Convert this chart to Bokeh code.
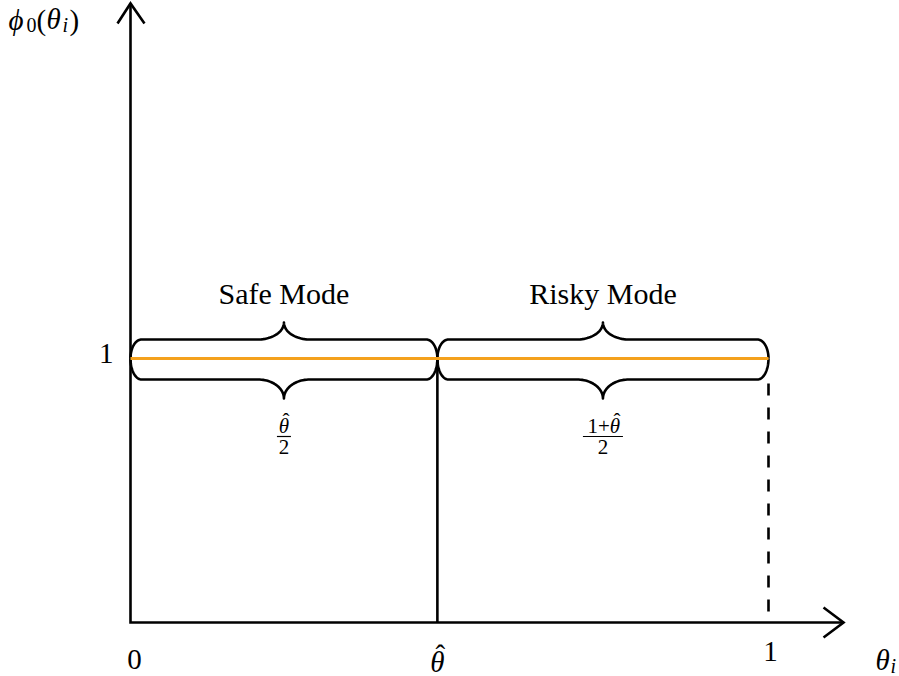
import numpy as np
from bokeh.plotting import figure
from bokeh.models import Range1d
from bokeh.core.properties import value
from bokeh.embed import file_html
from bokeh.resources import INLINE

# ---------------- data ----------------
theta_hat = 0.481
phi_level = 1.0
seg_start = [0.0, theta_hat]
seg_end = [theta_hat, 1.0]
mode_labels = ["Safe Mode", "Risky Mode"]
frac_prefix = ["", "1+"]
frac_symbol = ["θ", "θ"]
frac_denominators = ["2", "2"]
x_ticks = [0.0, theta_hat, 1.0]
x_tick_labels = ["0", "θ", "1"]
x_tick_hat = [False, True, False]
y_ticks = [1.0]
y_tick_labels = ["1"]
x_axis_end = 1.1176
y_axis_end = 2.345

# ---------------- layout ----------------
W, H = 899, 676
PX_X = 638.0          # pixels per data unit along x
PX_Y = 264.0          # pixels per data unit along y
ORIGIN = (130, 622)   # origin position in figure pixels (left, top)
x_start = -ORIGIN[0] / PX_X
x_end = x_start + W / PX_X
y_end = ORIGIN[1] / PX_Y
y_start = y_end - H / PX_Y

FONT = "Liberation Serif"
ORANGE = "#F4A11D"
LW = 2.6
HAT = "\u02C6"

p = figure(width=W, height=H, output_backend="svg", toolbar_location=None,
           x_range=Range1d(x_start, x_end), y_range=Range1d(y_start, y_end),
           x_axis_type=None, y_axis_type=None, min_border=0,
           background_fill_color="white", border_fill_color="white")
p.outline_line_color = None
p.grid.visible = False


def pd(xd, yd, dx, dy):
    """data point shifted by pixel offsets (dx right, dy down)"""
    return xd + dx / PX_X, yd - dy / PX_Y


def put(xd, yd, txt, dx=0, dy=0, size=29, align="center", italic=False):
    x, y = pd(xd, yd, dx, dy)
    p.text(x=[x], y=[y], text=[txt], text_font=value(FONT),
           text_font_size=f"{size}px", text_align=align,
           text_baseline="middle",
           text_font_style="italic" if italic else "normal",
           text_color="black")


def hat_over(xd, yd, dx, dy, size):
    """circumflex accent above a glyph whose visual centre is at (dx, dy)"""
    put(xd, yd, HAT, dx=dx + 2, dy=dy - 0.21 * size, size=size)


# ---------------- axes ----------------
p.line([0, 0, x_axis_end], [y_axis_end, 0, 0], line_color="black",
       line_width=LW, line_join="miter")
ax1 = pd(0, y_axis_end, -13, 20)
ax2 = pd(0, y_axis_end, 14, 20)
p.line([ax1[0], 0, ax2[0]], [ax1[1], y_axis_end, ax2[1]], line_color="black",
       line_width=LW, line_join="miter")
bx1 = pd(x_axis_end, 0, -20, -15)
bx2 = pd(x_axis_end, 0, -20, 15)
p.line([bx1[0], x_axis_end, bx2[0]], [bx1[1], 0, bx2[1]], line_color="black",
       line_width=LW, line_join="miter")

# threshold line and dashed end line
p.line([theta_hat, theta_hat], [phi_level, 0], line_color="black", line_width=LW)
p.line([1.0, 1.0], [pd(1.0, phi_level, 0, 25)[1], 0], line_color="black",
       line_width=LW, line_dash="12 12")


# ---------------- braces ----------------
def brace(xa, xb, y, up):
    s = 1 if up else -1
    ry_px, my_px = (19, 17) if up else (21, 19)
    rx = 11 / PX_X
    mx = 26 / PX_X
    ry = s * ry_px / PX_Y
    my = s * my_px / PX_Y
    mid = (xa + xb) / 2
    t = np.linspace(0, np.pi / 2, 24)
    x1 = xa + rx - rx * np.cos(t)
    y1 = y + ry * np.sin(t)
    x2 = mid - mx + mx * np.sin(t)
    y2 = y + ry + my * (1 - np.cos(t))
    xl = np.concatenate([x1, x2])
    yl = np.concatenate([y1, y2])
    xr = (2 * mid - xl)[::-1]
    yr = yl[::-1]
    return np.concatenate([xl, xr]), np.concatenate([yl, yr])


for a, b in zip(seg_start, seg_end):
    for up in (True, False):
        bx, by = brace(a, b, phi_level, up)
        p.line(bx, by, line_color="black", line_width=LW, line_join="round")

# policy line
p.line([seg_start[0], seg_end[-1]], [phi_level, phi_level],
       line_color=ORANGE, line_width=3.2)

# ---------------- labels ----------------
bar_half = [7, 20]
FS = 21
for i, (a, b) in enumerate(zip(seg_start, seg_end)):
    mid = (a + b) / 2
    put(mid, phi_level, mode_labels[i], dx=0, dy=-65, size=30)
    if frac_prefix[i]:
        put(mid, phi_level, frac_prefix[i], dx=7, dy=67, size=FS, align="right")
        put(mid, phi_level, frac_symbol[i], dx=12, dy=67, size=FS, italic=True)
        hat_over(mid, phi_level, 12, 67, FS)
    else:
        put(mid, phi_level, frac_symbol[i], dx=0, dy=67, size=FS, italic=True)
        hat_over(mid, phi_level, 0, 67, FS)
    l0 = pd(mid, phi_level, -bar_half[i], 78)
    l1 = pd(mid, phi_level, bar_half[i], 78)
    p.line([l0[0], l1[0]], [l0[1], l1[1]], line_color="black", line_width=1.2)
    put(mid, phi_level, frac_denominators[i], dx=0, dy=88, size=FS)

# tick labels
tick_dx = [4, 0, 2]
tick_dy = [36.5, 39, 29]
tick_it = [False, True, False]
for xv, lab, dx, dy, it, hat in zip(x_ticks, x_tick_labels, tick_dx, tick_dy,
                                    tick_it, x_tick_hat):
    put(xv, 0, lab, dx=dx, dy=dy, size=29, italic=it)
    if hat:
        hat_over(xv, 0, dx + 1, dy, 29)
for yv, lab in zip(y_ticks, y_tick_labels):
    put(0, yv, lab, dx=-17, dy=-5.5, size=29, align="right")

# axis titles
put(x_axis_end, 0, "θ", dx=32, dy=37, size=29, align="left", italic=True)
put(x_axis_end, 0, "i", dx=47, dy=43, size=20, align="left", italic=True)

put(0, y_axis_end, "\u03D5", dx=-122, dy=17, size=29, align="left", italic=True)
put(0, y_axis_end, "0", dx=-104, dy=22, size=20, align="left")
put(0, y_axis_end, "(", dx=-94, dy=17, size=29, align="left")
put(0, y_axis_end, "θ", dx=-84, dy=16, size=29, align="left", italic=True)
put(0, y_axis_end, "i", dx=-68, dy=22, size=20, align="left", italic=True)
put(0, y_axis_end, ")", dx=-61, dy=17, size=29, align="left")

open("out.html", "w").write(file_html(p, INLINE))
